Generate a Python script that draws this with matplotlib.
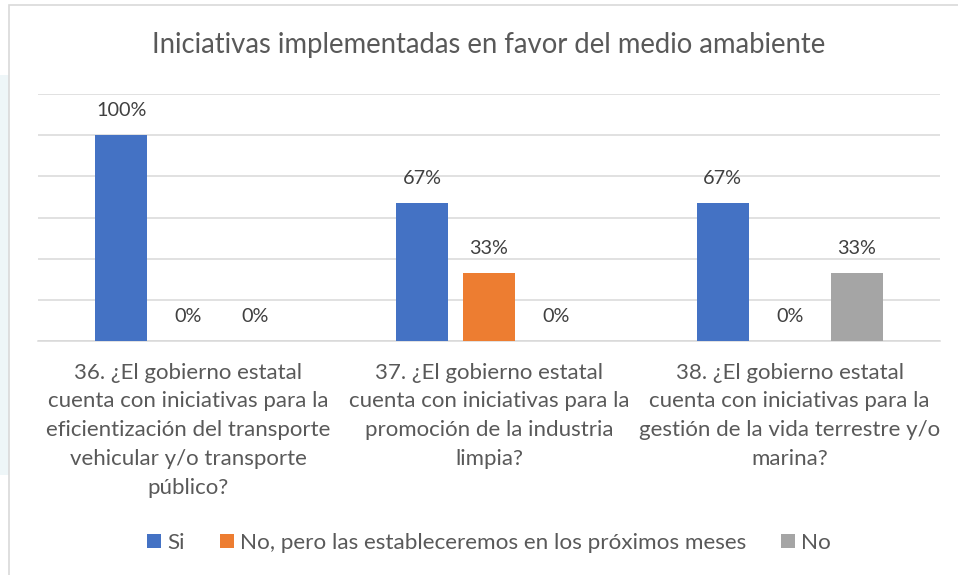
import matplotlib
matplotlib.use("Agg")
import matplotlib.pyplot as plt
from matplotlib.patches import Rectangle, Patch
import numpy as np

plt.rcParams['font.family'] = ['Lato', 'DejaVu Sans']

categories = [
    "36. ¿El gobierno estatal\ncuenta con iniciativas para la\neficientización del transporte\nvehicular y/o transporte\npúblico?",
    "37. ¿El gobierno estatal\ncuenta con iniciativas para la\npromoción de la industria\nlimpia?",
    "38. ¿El gobierno estatal\ncuenta con iniciativas para la\ngestión de la vida terrestre y/o\nmarina?",
]
series_names = ["Si", "No, pero las estableceremos en los próximos meses", "No"]
si_values = [100, 67, 67]
no_pero_values = [0, 33, 0]
no_values = [0, 0, 33]
colors = ["#4472C4", "#ED7D31", "#A5A5A5"]
title = "Iniciativas implementadas en favor del medio amabiente"

W, H = 958, 575
fig = plt.figure(figsize=(W / 100, H / 100), dpi=100)
fig.patch.set_facecolor("white")

# light tint at left edge and chart border
fig.patches.append(Rectangle((0, 100 / H), 9 / W, 400 / H, transform=fig.transFigure,
                             facecolor="#eef6f8", edgecolor="none", zorder=0))
fig.patches.append(Rectangle((9 / W, -0.01), 1.0, 1 - 5 / H + 0.01, transform=fig.transFigure,
                             facecolor="none", edgecolor="#d9d9d9", linewidth=1.2, zorder=1))

left, right, top, bottom = 38, 940, 94, 341
ax = fig.add_axes([left / W, 1 - bottom / H, (right - left) / W, (bottom - top) / H])

x = np.arange(len(categories))
width = 0.173
offset = 0.223
all_series = [si_values, no_pero_values, no_values]
for i, (vals, c, name) in enumerate(zip(all_series, colors, series_names)):
    pos = x + (i - 1) * offset
    ax.bar(pos, vals, width, color=c, label=name, zorder=3)
    for xp, v in zip(pos, vals):
        ax.text(xp, v + 11.8, f"{v}%", ha="center", va="center", fontsize=14.3, color="#404040")

ax.set_xlim(-0.5, 2.5)
ax.set_ylim(0, 120)
ax.set_yticks(np.arange(0, 121, 20))
ax.yaxis.grid(True, color="#d9d9d9", linewidth=1.1)
ax.set_axisbelow(True)
ax.tick_params(axis="y", left=False, labelleft=False)
ax.tick_params(axis="x", bottom=False)
ax.set_xticks(x)
ax.set_xticklabels(categories, fontsize=16, color="#595959", linespacing=1.56)
ax.tick_params(axis="x", pad=12)
for s in ["top", "right", "left"]:
    ax.spines[s].set_visible(False)
ax.spines["bottom"].set_color("#d9d9d9")
ax.spines["bottom"].set_linewidth(1.1)

fig.text(489 / W, 1 - 45 / H, title, ha="center", va="center", fontsize=19.8, color="#595959")

handles = [Patch(facecolor=c, edgecolor="none") for c in colors]
fig.legend(handles, series_names, loc="center", bbox_to_anchor=(489 / W, 1 - 543 / H),
           ncol=3, frameon=False, fontsize=16.2, labelcolor="#595959",
           handlelength=0.62, handleheight=0.62, handletextpad=0.27, columnspacing=1.55)

fig.savefig("out.png", dpi=100)
